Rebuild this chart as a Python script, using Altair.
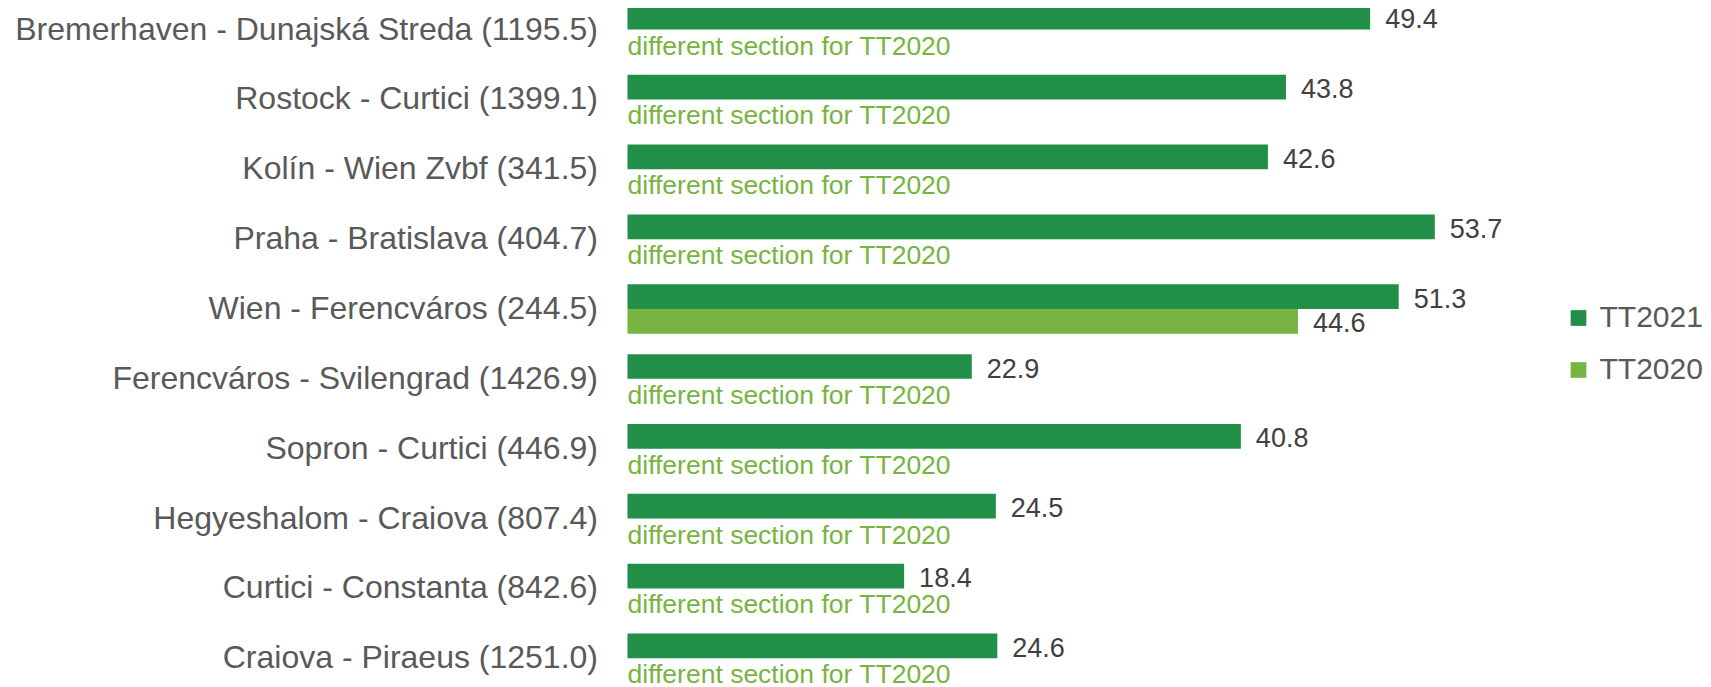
import altair as alt
import pandas as pd

categories = [
    "Bremerhaven - Dunajská Streda (1195.5)",
    "Rostock - Curtici (1399.1)",
    "Kolín - Wien Zvbf (341.5)",
    "Praha - Bratislava (404.7)",
    "Wien - Ferencváros (244.5)",
    "Ferencváros - Svilengrad (1426.9)",
    "Sopron - Curtici (446.9)",
    "Hegyeshalom - Craiova (807.4)",
    "Curtici - Constanta (842.6)",
    "Craiova - Piraeus (1251.0)",
]
tt2021 = [49.4, 43.8, 42.6, 53.7, 51.3, 22.9, 40.8, 24.5, 18.4, 24.6]
tt2020 = [None, None, None, None, 44.6, None, None, None, None, None]
series_names = ["TT2021", "TT2020"]
series_colors = ["#218F48", "#77B441"]
note_text = "different section for TT2020"

rows = []
for c, a, b in zip(categories, tt2021, tt2020):
    rows.append({"cat": c, "series": "TT2021", "value": a})
    rows.append({"cat": c, "series": "TT2020", "value": b})
df = pd.DataFrame(rows)
bars_df = df[df["value"].notna()].copy()
bars_df["label"] = bars_df["value"].map(lambda v: f"{v:.1f}")
notes_df = df[(df["series"] == "TT2020") & (df["value"].isna())].copy()
notes_df["note"] = note_text

FONT = "Liberation Sans, Arial, sans-serif"

y_enc = alt.Y(
    "cat:N",
    sort=categories,
    scale=alt.Scale(range=[-3.1, 674.95], paddingInner=0.293, paddingOuter=0),
    axis=alt.Axis(
        title=None, domain=False, ticks=False, labelFontSize=32,
        labelColor="#595959", labelPadding=30, labelLimit=0, labelFont=FONT,
    ),
)
yoff = alt.YOffset("series:N", sort=series_names,
                   scale=alt.Scale(domain=series_names, paddingInner=0, paddingOuter=0))
x_enc = alt.X("value:Q", scale=alt.Scale(domain=[0, 60], nice=False), axis=None)

bars = alt.Chart(bars_df).mark_bar().encode(
    y=y_enc,
    yOffset=yoff,
    x=x_enc,
    color=alt.Color(
        "series:N",
        scale=alt.Scale(domain=series_names, range=series_colors),
        legend=alt.Legend(
            title=None, orient="none", legendX=936, legendY=295,
            symbolType="square", symbolSize=246, symbolStrokeWidth=0,
            labelFontSize=30, labelColor="#595959", labelFont=FONT,
            labelOffset=6, rowPadding=22, padding=0,
        ),
    ),
)

values = alt.Chart(bars_df).mark_text(
    align="left", baseline="alphabetic", dx=15, dy=11,
    fontSize=27, color="#404040", font=FONT,
).encode(y=y_enc, yOffset=yoff, x=x_enc, text="label:N")

notes = alt.Chart(notes_df).mark_text(
    align="left", baseline="alphabetic", dy=12.7,
    fontSize=26.5, color="#77B441", font=FONT,
).encode(y=y_enc, yOffset=yoff, x=alt.value(0), text="note:N")

chart = alt.layer(bars, values, notes).properties(
    width=902, height=675,
    autosize=alt.AutoSizeParams(type="none"),
    padding={"left": 619.5, "top": 0, "right": 173.5, "bottom": 10},
).configure_view(stroke=None)

chart.save("out.html", embed_options={"renderer": "svg", "actions": False})
